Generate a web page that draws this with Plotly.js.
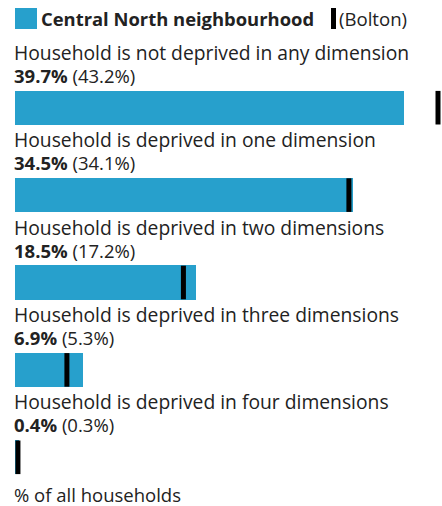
<!DOCTYPE html>
<html><head><meta charset="utf-8">
<script src="https://cdn.plot.ly/plotly-3.0.1.min.js"></script>
<style>html,body{margin:0;padding:0;background:#fff}#chart{width:442px;height:506px}</style>
</head><body><div id="chart"></div>
<script>
const categories = [
  "Household is not deprived in any dimension",
  "Household is deprived in one dimension",
  "Household is deprived in two dimensions",
  "Household is deprived in three dimensions",
  "Household is deprived in four dimensions"
];
const areaValues = [39.7, 34.5, 18.5, 6.9, 0.4];
const boltonValues = [43.2, 34.1, 17.2, 5.3, 0.3];
const areaName = "Central North neighbourhood";
const compName = "(Bolton)";
const axisLabel = "% of all households";

const FONT = "Open Sans";
const TXT = "#222222";
const BLUE = "#27a0cc";
const idx = categories.map((c, i) => i);

const traces = [
  {type: 'bar', orientation: 'h', x: areaValues, y: idx, width: 0.39,
   marker: {color: BLUE}, showlegend: false, hoverinfo: 'skip'},
  {type: 'scatter', mode: 'markers', x: boltonValues, y: idx, cliponaxis: false,
   marker: {symbol: 'line-ns', size: 24, line: {width: 5, color: '#000'}},
   showlegend: false, hoverinfo: 'skip'}
];

const annotations = [];
categories.forEach((c, i) => {
  annotations.push({xref: 'x', yref: 'y', x: 0, y: i, xanchor: 'left', yanchor: 'middle', align: 'left',
    xshift: -3, yshift: 44.5,
    text: '<span style="font-size:19.3px">' + c + '</span><br>' +
          '<span style="font-size:18.5px"><b>' + areaValues[i].toFixed(1) + '%</b> (' + boltonValues[i].toFixed(1) + '%)</span>',
    showarrow: false, font: {family: FONT, size: 17.7, color: TXT}});
});
annotations.push({xref: 'paper', yref: 'paper', x: 0, y: 0, xanchor: 'left', yanchor: 'middle',
  xshift: -3, yshift: 7, text: axisLabel, showarrow: false, font: {family: FONT, size: 18.5, color: TXT}});
// legend
annotations.push({xref: 'paper', yref: 'paper', x: 0, y: 1, xanchor: 'left', yanchor: 'middle',
  xshift: 24, yshift: 46, text: '<b>' + areaName + '</b>', showarrow: false, font: {family: FONT, size: 18.4, color: TXT}});
annotations.push({xref: 'paper', yref: 'paper', x: 0, y: 1, xanchor: 'left', yanchor: 'middle',
  xshift: 322, yshift: 46, text: compName, showarrow: false, font: {family: FONT, size: 18.6, color: TXT}});

const shapes = [
  {type: 'rect', xref: 'paper', yref: 'paper', x0: 0, x1: 22/423, y0: 1.0 + 35/437, y1: 1.0 + 56/437,
   fillcolor: BLUE, line: {width: 0}},
  {type: 'rect', xref: 'paper', yref: 'paper', x0: 316/423, x1: 321/423, y0: 1.0 + 35/437, y1: 1.0 + 56/437,
   fillcolor: '#000', line: {width: 0}}
];

const layout = {
  width: 442, height: 506,
  margin: {l: 15, r: 4, t: 64, b: 5},
  paper_bgcolor: '#fff', plot_bgcolor: '#fff',
  xaxis: {range: [0, 43.2], visible: false, fixedrange: true},
  yaxis: {range: [4.5, -0.5], visible: false, fixedrange: true},
  annotations, shapes, bargap: 0, showlegend: false
};
Plotly.newPlot('chart', traces, layout, {staticPlot: true});
</script></body></html>
